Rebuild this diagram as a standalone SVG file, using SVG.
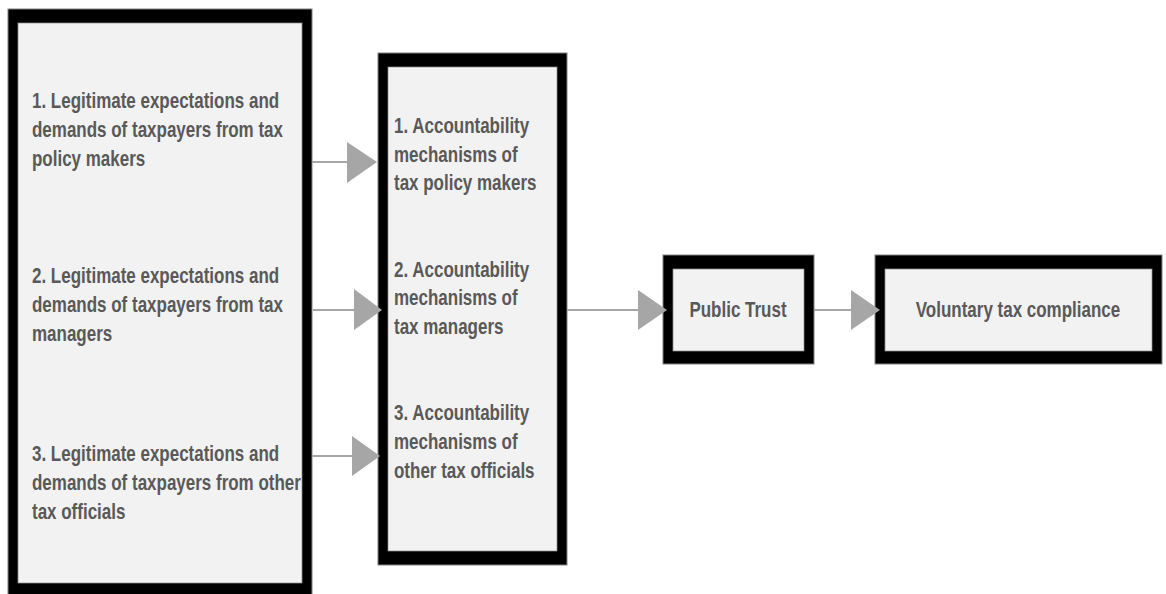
<svg xmlns="http://www.w3.org/2000/svg" width="1166" height="594" viewBox="0 0 1166 594">
<style>
.outer{fill:#000;stroke:#808080;stroke-width:1}
.inner{fill:#f2f2f2;stroke:#8c8c8c;stroke-width:0.75}
.t{font-family:"Liberation Sans",Arial,sans-serif;font-weight:bold;font-size:22.5px;fill:#595959}
.ln{stroke:#a6a6a6;stroke-width:2;fill:none}
.hd{fill:#a6a6a6}
</style>
<rect width="1166" height="594" fill="#fff"/>
<g id="node-expectations">
<rect class="outer" x="8" y="9" width="304" height="590"/>
<rect class="inner" x="18" y="23" width="284" height="560"/>
<g transform="translate(32,0) scale(0.755,1)">
<text class="t"><tspan x="0" y="108">1. Legitimate expectations and</tspan><tspan x="0" y="137">demands of taxpayers from tax</tspan><tspan x="0" y="166">policy makers</tspan></text>
<text class="t"><tspan x="0" y="283">2. Legitimate expectations and</tspan><tspan x="0" y="312">demands of taxpayers from tax</tspan><tspan x="0" y="341">managers</tspan></text>
<text class="t"><tspan x="0" y="461">3. Legitimate expectations and</tspan><tspan x="0" y="490">demands of taxpayers from other</tspan><tspan x="0" y="519">tax officials</tspan></text>
</g>
</g>
<g id="node-accountability">
<rect class="outer" x="378" y="53" width="189" height="512"/>
<rect class="inner" x="388" y="67" width="169" height="484"/>
<g transform="translate(394,0) scale(0.755,1)">
<text class="t"><tspan x="0" y="133">1. Accountability</tspan><tspan x="0" y="162">mechanisms of</tspan><tspan x="0" y="190">tax policy makers</tspan></text>
<text class="t"><tspan x="0" y="277">2. Accountability</tspan><tspan x="0" y="305">mechanisms of</tspan><tspan x="0" y="334">tax managers</tspan></text>
<text class="t"><tspan x="0" y="420">3. Accountability</tspan><tspan x="0" y="449">mechanisms of</tspan><tspan x="0" y="478">other tax officials</tspan></text>
</g>
</g>
<g id="node-trust">
<rect class="outer" x="663" y="255" width="151" height="109"/>
<rect class="inner" x="673" y="269" width="131" height="82"/>
<g transform="translate(738,0) scale(0.755,1)">
<text class="t" x="0" y="317" text-anchor="middle">Public Trust</text>
</g>
</g>
<g id="node-compliance">
<rect class="outer" x="875" y="255" width="287" height="109"/>
<rect class="inner" x="885" y="269" width="267" height="82"/>
<g transform="translate(1018,0) scale(0.755,1)">
<text class="t" x="0" y="317" text-anchor="middle">Voluntary tax compliance</text>
</g>
</g>
<g id="connectors">
<line class="ln" x1="312" y1="162" x2="348" y2="162"/>
<polygon class="hd" points="347,142 347,183 377,162"/>
<line class="ln" x1="313" y1="310" x2="355" y2="310"/>
<polygon class="hd" points="354,289 354,330 382,310"/>
<line class="ln" x1="312" y1="456" x2="353" y2="456"/>
<polygon class="hd" points="352,436 352,476 380,456"/>
<line class="ln" x1="567" y1="310" x2="639" y2="310"/>
<polygon class="hd" points="638,290 638,330 667,310"/>
<line class="ln" x1="814" y1="310" x2="852" y2="310"/>
<polygon class="hd" points="851,290 851,330 880,310"/>
</g>
</svg>
